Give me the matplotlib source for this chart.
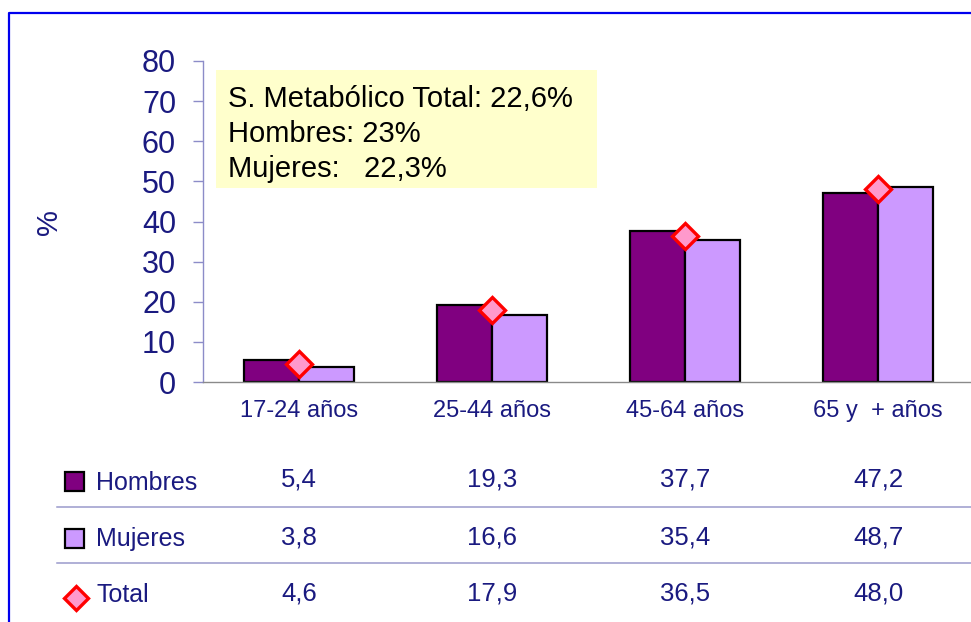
import matplotlib
matplotlib.use("Agg")
import matplotlib.pyplot as plt
import matplotlib.transforms as mtransforms
from matplotlib.patches import Rectangle
from matplotlib.lines import Line2D
from matplotlib import font_manager

# Metabolic syndrome prevalence by age group (%)
categories = ["17-24 años", "25-44 años", "45-64 años", "65 y  + años"]
hombres = [5.4, 19.3, 37.7, 47.2]
mujeres = [3.8, 16.6, 35.4, 48.7]
total = [4.6, 17.9, 36.5, 48.0]
series_names = ["Hombres", "Mujeres", "Total"]
yticks = [0, 10, 20, 30, 40, 50, 60, 70, 80]
summary_lines = ["S. Metabólico Total: 22,6%", "Hombres: 23%", "Mujeres:   22,3%"]

names = {f.name for f in font_manager.fontManager.ttflist}
NARROW = "Liberation Sans Narrow" if "Liberation Sans Narrow" in names else "Liberation Sans"
REG = "Liberation Sans"

NAVY = "#1a1a80"
C_H = "#800080"
C_M = "#cc99ff"
C_T_FACE = "#ff99cc"
C_T_EDGE = "#ff0000"

W, H = 971, 622
fig = plt.figure(figsize=(W / 100, H / 100), dpi=100)
fig.patch.set_facecolor("white")

def fx(px):
    return px / W

def fy(py):
    return 1 - py / H

# Axes: y=0 at 382px, y=80 at 61px; category spacing ~193px
ax_left, ax_right = 202.5, 971
ax = fig.add_axes([fx(ax_left), fy(382), fx(ax_right - ax_left), (382 - 61) / H])
span = 4 * 193
ax.set_xlim(-0.5, -0.5 + 4 * (ax_right - ax_left) / span)
ax.set_ylim(0, 80)

x = list(range(len(categories)))
bw = 0.285
ax.bar([i - bw / 2 for i in x], hombres, width=bw, color=C_H, edgecolor="black", linewidth=1.6, zorder=2)
ax.bar([i + bw / 2 for i in x], mujeres, width=bw, color=C_M, edgecolor="black", linewidth=1.6, zorder=2)
ax.plot(x, total, linestyle="none", marker="D", markersize=13, markerfacecolor=C_T_FACE,
        markeredgecolor=C_T_EDGE, markeredgewidth=2.4, zorder=3, clip_on=False)

for s in ["top", "right"]:
    ax.spines[s].set_visible(False)
ax.spines["left"].set_color("#8c8cc8")
ax.spines["left"].set_linewidth(1.0)
ax.spines["bottom"].set_color("#8a8a8a")
ax.spines["bottom"].set_linewidth(1.0)

ax.set_yticks(yticks)
ax.set_yticklabels([str(v) for v in yticks], fontfamily=NARROW, fontsize=22, color=NAVY)
ax.tick_params(axis="y", length=7, width=1.0, color="#8c8cc8", pad=12)
ax.set_xticks(x)
ax.set_xticklabels(categories, fontfamily=REG, fontsize=17, color=NAVY)
ax.tick_params(axis="x", length=0, pad=13)

fig.text(fx(49), fy(222), "%", rotation=90, ha="center", va="center",
         fontfamily=NARROW, fontsize=21, color=NAVY)

# Summary box
fig.patches.append(Rectangle((fx(216), fy(188)), fx(597 - 216), (188 - 70) / H,
                             transform=fig.transFigure, facecolor="#ffffcc",
                             edgecolor="none", zorder=1))
for k, line in enumerate(summary_lines):
    fig.text(fx(228), fy(107 + 35 * k), line, ha="left", va="baseline",
             fontfamily=REG, fontsize=21, color="black", zorder=2)

# Data table below the chart
blend = mtransforms.blended_transform_factory(ax.transData, fig.transFigure)
value_baselines = [487, 544, 601]
rows = [hombres, mujeres, total]
for by, vals in zip(value_baselines, rows):
    for i, v in zip(x, vals):
        fig.text(i, fy(by), f"{v:.1f}".replace(".", ","), transform=blend,
                 ha="center", va="baseline", fontfamily=REG, fontsize=18.5, color=NAVY)

label_baselines = [490, 546, 602]
for name, by in zip(series_names, label_baselines):
    fig.text(fx(96), fy(by), name, ha="left", va="baseline",
             fontfamily=NARROW, fontsize=18, color=NAVY)

# Legend keys
fig.patches.append(Rectangle((fx(65), fy(491)), fx(19), 19 / H, transform=fig.transFigure,
                             facecolor=C_H, edgecolor="black", linewidth=1.6))
fig.patches.append(Rectangle((fx(65), fy(548)), fx(19), 19 / H, transform=fig.transFigure,
                             facecolor=C_M, edgecolor="black", linewidth=1.6))
fig.lines.append(Line2D([fx(76)], [fy(598)], transform=fig.transFigure, marker="D",
                        markersize=12, markerfacecolor=C_T_FACE, markeredgecolor=C_T_EDGE,
                        markeredgewidth=2.4, linestyle="none"))

# Row separators
for sy in [507, 563]:
    fig.lines.append(Line2D([fx(57), 1], [fy(sy), fy(sy)], transform=fig.transFigure,
                            color="#9a9acc", linewidth=1.1))

# Outer frame
fig.lines.append(Line2D([fx(9), fx(9), 1], [0, fy(13), fy(13)], transform=fig.transFigure,
                        color="#0000ee", linewidth=1.6))

fig.savefig("out.png", dpi=100)
